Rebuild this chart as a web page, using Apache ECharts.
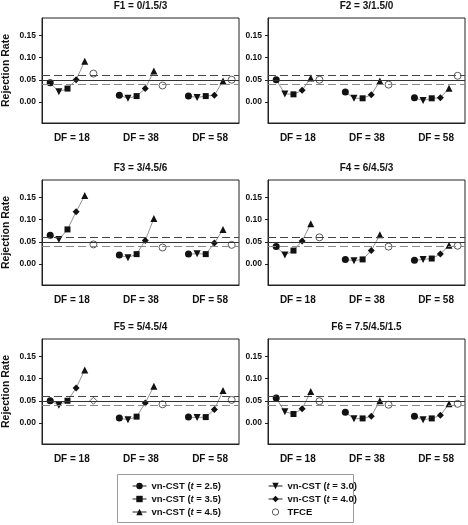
<!DOCTYPE html>
<html><head><meta charset="utf-8">
<script src="https://cdn.jsdelivr.net/npm/echarts@6/dist/echarts.min.js"></script>
<style>html,body{margin:0;padding:0;background:#fff}#c{width:468px;height:525px}</style>
</head><body><div id="c"></div>
<script>
// ---- data ----
const panelTitles = ['F1 = 0/1.5/3','F2 = 3/1.5/0','F3 = 3/4.5/6','F4 = 6/4.5/3','F5 = 5/4.5/4','F6 = 7.5/4.5/1.5'];
const dfLabels = ['DF = 18','DF = 38','DF = 58'];
const yTicks = [0, 0.05, 0.10, 0.15];
// each row = one panel, values for DF = 18, 38, 58
const t25 = [[0.043,0.015,0.013],[0.050,0.022,0.009],[0.065,0.020,0.022],[0.039,0.010,0.008],[0.050,0.011,0.013],[0.056,0.024,0.015]];
const t30 = [[0.023,0.008,0.010],[0.018,0.008,0.003],[0.055,0.014,0.023],[0.020,0.007,0.010],[0.040,0.007,0.012],[0.025,0.009,0.007]];
const t35 = [[0.030,0.013,0.013],[0.017,0.008,0.008],[0.078,0.022,0.022],[0.030,0.010,0.012],[0.050,0.014,0.013],[0.020,0.010,0.010]];
const t40 = [[0.050,0.030,0.015],[0.026,0.016,0.009],[0.118,0.053,0.047],[0.052,0.030,0.022],[0.079,0.045,0.030],[0.032,0.015,0.017]];
const t45 = [[0.092,0.070,0.047],[0.054,0.047,0.031],[0.155,0.103,0.078],[0.091,0.066,0.042],[0.120,0.083,0.073],[0.071,0.050,0.043]];
const tfce = [[0.064,0.037,0.050],[0.050,0.039,0.059],[0.044,0.037,0.043],[0.060,0.039,0.041],[0.050,0.042,0.052],[0.049,0.041,0.043]];
const refLines = [0.04, 0.05, 0.06];

// ---- styling / layout ----
const FONT = 'Liberation Sans, Arial, sans-serif';
const methods = [
  {name:'vn-CST (t = 2.5)', data:t25, symbol:'circle', size:7, rot:0},
  {name:'vn-CST (t = 3.0)', data:t30, symbol:'triangle', size:7, rot:180},
  {name:'vn-CST (t = 3.5)', data:t35, symbol:'rect', size:6, rot:0},
  {name:'vn-CST (t = 4.0)', data:t40, symbol:'diamond', size:7, rot:0},
  {name:'vn-CST (t = 4.5)', data:t45, symbol:'triangle', size:7, rot:0}
];
const colLeft = [42, 268], colW = 197;
const rowTop = [18, 180, 339], rowH = 105;
const GROUP_STEP = 8;

const grids = [], xAxes = [], yAxes = [], series = [], graphics = [];
panelTitles.forEach((title, p) => {
  const col = p % 2, row = Math.floor(p / 2);
  grids.push({left: colLeft[col], top: rowTop[row], width: colW, height: rowH,
    show: true, borderColor: '#222', borderWidth: 1, backgroundColor: 'transparent'});
  xAxes.push({type: 'value', gridIndex: p, min: -0.95, max: 21.85,
    axisLine: {show: true, onZero: false, lineStyle: {color: '#222'}},
    axisTick: {show: false}, splitLine: {show: false},
    axisLabel: {customValues: dfLabels.map((d, g) => g * GROUP_STEP + 2.5),
      formatter: v => dfLabels[Math.round((v - 2.5) / GROUP_STEP)],
      margin: 10, fontFamily: FONT, fontWeight: 'bold', fontSize: 10, color: '#111'}});
  yAxes.push({type: 'value', gridIndex: p, min: -0.048, max: 0.19,
    name: col === 0 ? 'Rejection Rate' : '', nameLocation: 'middle', nameRotate: 90, nameGap: 30,
    nameTextStyle: {fontFamily: FONT, fontWeight: 'bold', fontSize: 10.5, color: '#111'},
    axisLine: {show: true, onZero: false, lineStyle: {color: '#222'}},
    axisTick: {show: true, length: 3, customValues: yTicks, lineStyle: {color: '#222'}},
    splitLine: {show: false},
    axisLabel: {customValues: yTicks, formatter: v => v.toFixed(2), margin: 6,
      fontFamily: FONT, fontWeight: 'bold', fontSize: 8.5, color: '#111'}});
  graphics.push({type: 'text', x: colLeft[col] + colW / 2, y: rowTop[row] - 11.5,
    style: {text: title, textAlign: 'center', textVerticalAlign: 'middle',
      font: 'bold 10px ' + FONT, fill: '#111'}});

  // connector line through the five vn-CST points of each DF group
  const conn = [];
  dfLabels.forEach((d, g) => {
    methods.forEach((m, k) => conn.push([g * GROUP_STEP + k, m.data[p][g]]));
    conn.push([g * GROUP_STEP + 5, '-']);
  });
  series.push({type: 'line', xAxisIndex: p, yAxisIndex: p, data: conn, symbol: 'none',
    silent: true, z: 1, lineStyle: {color: '#777', width: 0.8},
    markLine: {silent: true, symbol: 'none', label: {show: false}, animation: false,
      data: [
        {yAxis: refLines[0], lineStyle: {color: '#888', width: 1, type: [8, 4]}},
        {yAxis: refLines[1], lineStyle: {color: '#333', width: 1, type: 'solid'}},
        {yAxis: refLines[2], lineStyle: {color: '#444', width: 1, type: [8, 4]}}
      ]}});
  methods.forEach((m, k) => {
    series.push({type: 'line', name: m.name, xAxisIndex: p, yAxisIndex: p, z: 3,
      data: dfLabels.map((d, g) => [g * GROUP_STEP + k, m.data[p][g]]),
      symbol: m.symbol, symbolSize: m.size, symbolRotate: m.rot,
      lineStyle: {opacity: 0}, itemStyle: {color: '#111', borderWidth: 0}});
  });
  series.push({type: 'line', name: 'TFCE', xAxisIndex: p, yAxisIndex: p, z: 3,
    data: dfLabels.map((d, g) => {
      const item = {value: [g * GROUP_STEP + 5, tfce[p][g]]};
      if (p === 4 && g === 0) item.symbol = 'diamond';
      return item;
    }),
    symbol: 'circle', symbolSize: 7, lineStyle: {opacity: 0},
    itemStyle: {color: '#fff', borderColor: '#333', borderWidth: 0.8}});
});

graphics.push({type: 'rect', shape: {x: 117.5, y: 474.5, width: 236, height: 48},
  style: {fill: 'none', stroke: '#999', lineWidth: 1}, silent: true});

const legendText = {fontFamily: FONT, fontWeight: 'bold', fontSize: 9.5, color: '#111',
  rich: {i: {fontFamily: FONT, fontWeight: 'bold', fontStyle: 'italic', fontSize: 9.5, color: '#111'}}};
const legendCommon = {orient: 'vertical', padding: 0, itemWidth: 14, itemHeight: 8, itemGap: 3,
  selectedMode: false, textStyle: legendText,
  lineStyle: {color: '#222', width: 1, opacity: 1},
  formatter: n => n.replace('(t =', '({i|t} =')};

const option = {
  animation: false,
  grid: grids, xAxis: xAxes, yAxis: yAxes, series: series,
  legend: [
    Object.assign({left: 132, top: 481,
      data: ['vn-CST (t = 2.5)', 'vn-CST (t = 3.5)', 'vn-CST (t = 4.5)']}, legendCommon),
    Object.assign({left: 268, top: 481,
      data: ['vn-CST (t = 3.0)', 'vn-CST (t = 4.0)',
        {name: 'TFCE', lineStyle: {opacity: 0},
         itemStyle: {color: '#fff', borderColor: '#333', borderWidth: 0.8}}]}, legendCommon)
  ],
  graphic: graphics
};
const chart = echarts.init(document.getElementById('c'), null, {renderer: 'canvas'});
chart.setOption(option);
</script></body></html>
